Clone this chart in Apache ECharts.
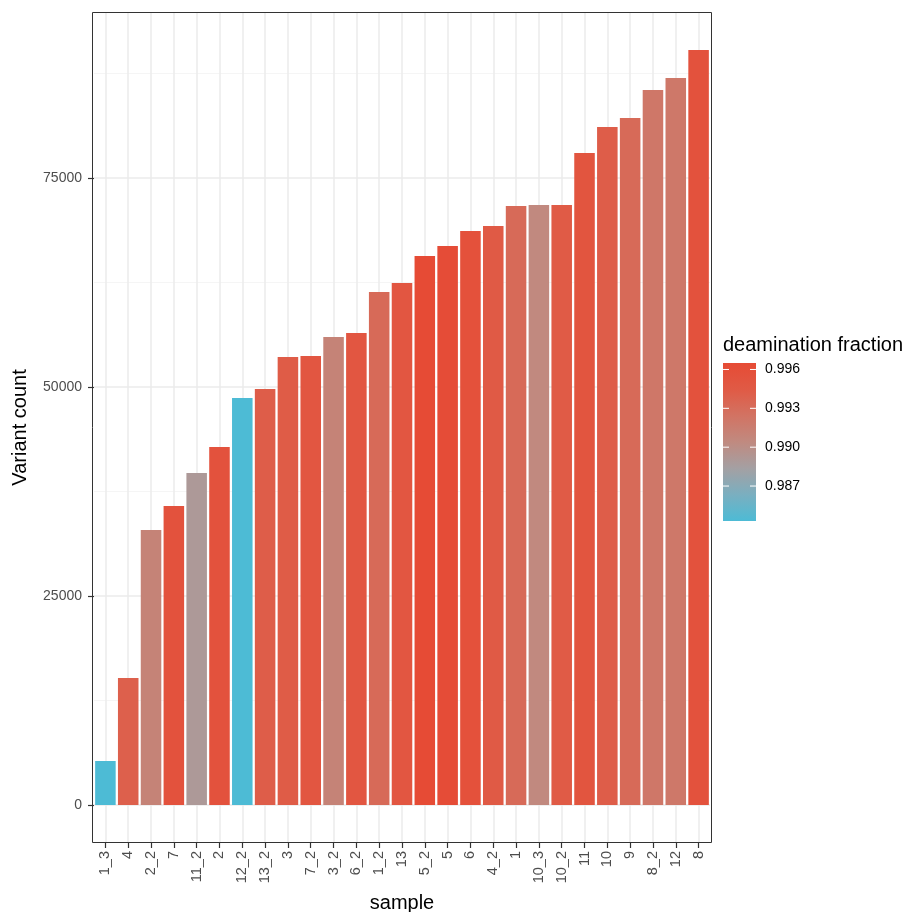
<!DOCTYPE html>
<html><head><meta charset="utf-8">
<script src="https://cdn.jsdelivr.net/npm/echarts@6/dist/echarts.min.js"></script>
<style>html,body{margin:0;padding:0;background:#fff}#c{width:906px;height:912px}</style>
</head><body><div id="c"></div>
<script>
const samples = ['1_3','4','2_2','7','11_2','2','12_2','13_2','3','7_2','3_2','6_2','1_2','13','5_2','5','6','4_2','1','10_3','10_2','11','10','9','8_2','12','8'];
const counts = [5263,15190,32900,35770,39710,42820,48680,49760,53590,53710,55980,56460,61360,62440,65670,66870,68660,69260,71650,71770,71770,77990,81100,82180,85530,86960,90310];
const deamination = [0.9843,0.9940,0.9910,0.9955,0.9890,0.9955,0.9843,0.9942,0.9943,0.9950,0.9910,0.9950,0.9932,0.9950,0.9965,0.9963,0.9957,0.9945,0.9932,0.9905,0.9944,0.9952,0.9942,0.9932,0.9921,0.9920,0.9955];
const legendTicks = [0.996, 0.993, 0.990, 0.987];
const yTicks = [0, 25000, 50000, 75000];
const yMinorTicks = [12500, 37500, 62500, 87500];

const fracMin = 0.9843, fracMax = 0.9965;
const palette = ['#4DBBD5','#7AAFC0','#A4A0A3','#C08A80','#D27363','#E05A45','#E64B35'];
const FONT = 'Liberation Sans';

const bar = {x: 723, y: 363, w: 33, h: 158};
const graphics = [];
graphics.push({type:'rect', shape:{x:92.5, y:12.5, width:619, height:830}, style:{fill:null, stroke:'#333333', lineWidth:1}, z:100});
graphics.push({type:'text', style:{text:'deamination fraction', x:bar.x, y:345, fill:'#000', font:'20px "'+FONT+'"', textVerticalAlign:'middle'}});
graphics.push({type:'rect', shape:{x:bar.x, y:bar.y, width:bar.w, height:bar.h},
  style:{fill:{type:'linear', x:0, y:0, x2:0, y2:1,
    colorStops: palette.slice().reverse().map((c,i)=>({offset:i/(palette.length-1), color:c}))}}});
legendTicks.forEach(v=>{
  const yy = bar.y + (fracMax - v)/(fracMax - fracMin)*bar.h;
  graphics.push({type:'line', shape:{x1:bar.x, y1:yy, x2:bar.x+6, y2:yy}, style:{stroke:'#fff', lineWidth:1}});
  graphics.push({type:'line', shape:{x1:bar.x+bar.w-6, y1:yy, x2:bar.x+bar.w, y2:yy}, style:{stroke:'#fff', lineWidth:1}});
  graphics.push({type:'text', style:{text:v.toFixed(3), x:bar.x+bar.w+9, y:yy, fill:'#000', font:'14px "'+FONT+'"', textVerticalAlign:'middle'}});
});

const chart = echarts.init(document.getElementById('c'), null, {renderer:'canvas'});
const yMin = -4545, yMax = 94856;
chart.setOption({
  animation:false,
  backgroundColor:'#fff',
  textStyle:{fontFamily:FONT},
  grid:{left:94, right:196, top:12, bottom:69, containLabel:false, outerBoundsMode:'none'},
  xAxis:[{
    type:'category', data:samples, boundaryGap:true,
    name:'sample', nameLocation:'middle', nameGap:50,
    nameTextStyle:{fontSize:20, color:'#000', fontFamily:FONT},
    axisLine:{show:false, onZero:false},
    axisTick:{show:true, alignWithLabel:true, length:5, lineStyle:{color:'#333333', width:1.2}},
    axisLabel:{rotate:90, color:'#4D4D4D', fontSize:14.5, fontFamily:FONT, margin:8, interval:0},
    splitLine:{show:true, alignWithLabel:true, lineStyle:{color:'#EBEBEB', width:1.5}}
  }],
  yAxis:[{
    type:'value', min:yMin, max:yMax,
    name:'Variant count', nameLocation:'middle', nameGap:64, nameRotate:90,
    nameTextStyle:{fontSize:20, color:'#000', fontFamily:FONT},
    axisLine:{show:false, onZero:false},
    axisTick:{show:true, length:6, customValues:yTicks, lineStyle:{color:'#333333', width:1.2}},
    axisLabel:{customValues:yTicks, color:'#4D4D4D', fontSize:14, fontFamily:FONT, margin:12,
      formatter:v=>String(v)},
    splitLine:{show:true, lineStyle:{color:'#EBEBEB', width:1.5}}
  },{
    type:'value', min:yMin, max:yMax, position:'left',
    axisLine:{show:false, onZero:false}, axisLabel:{show:false},
    axisTick:{show:false, customValues:yMinorTicks},
    splitLine:{show:true, lineStyle:{color:'#F2F2F2', width:0.8}}
  }],
  visualMap:{type:'continuous', show:false, min:fracMin, max:fracMax, dimension:2, seriesIndex:0,
    inRange:{color:palette}},
  series:[{
    type:'bar', xAxisIndex:0, yAxisIndex:0,
    barCategoryGap:'10%',
    data: samples.map((s,i)=>[i, counts[i], deamination[i]]),
    encode:{x:0, y:1},
    z:5
  }],
  graphic: graphics
});
</script></body></html>
